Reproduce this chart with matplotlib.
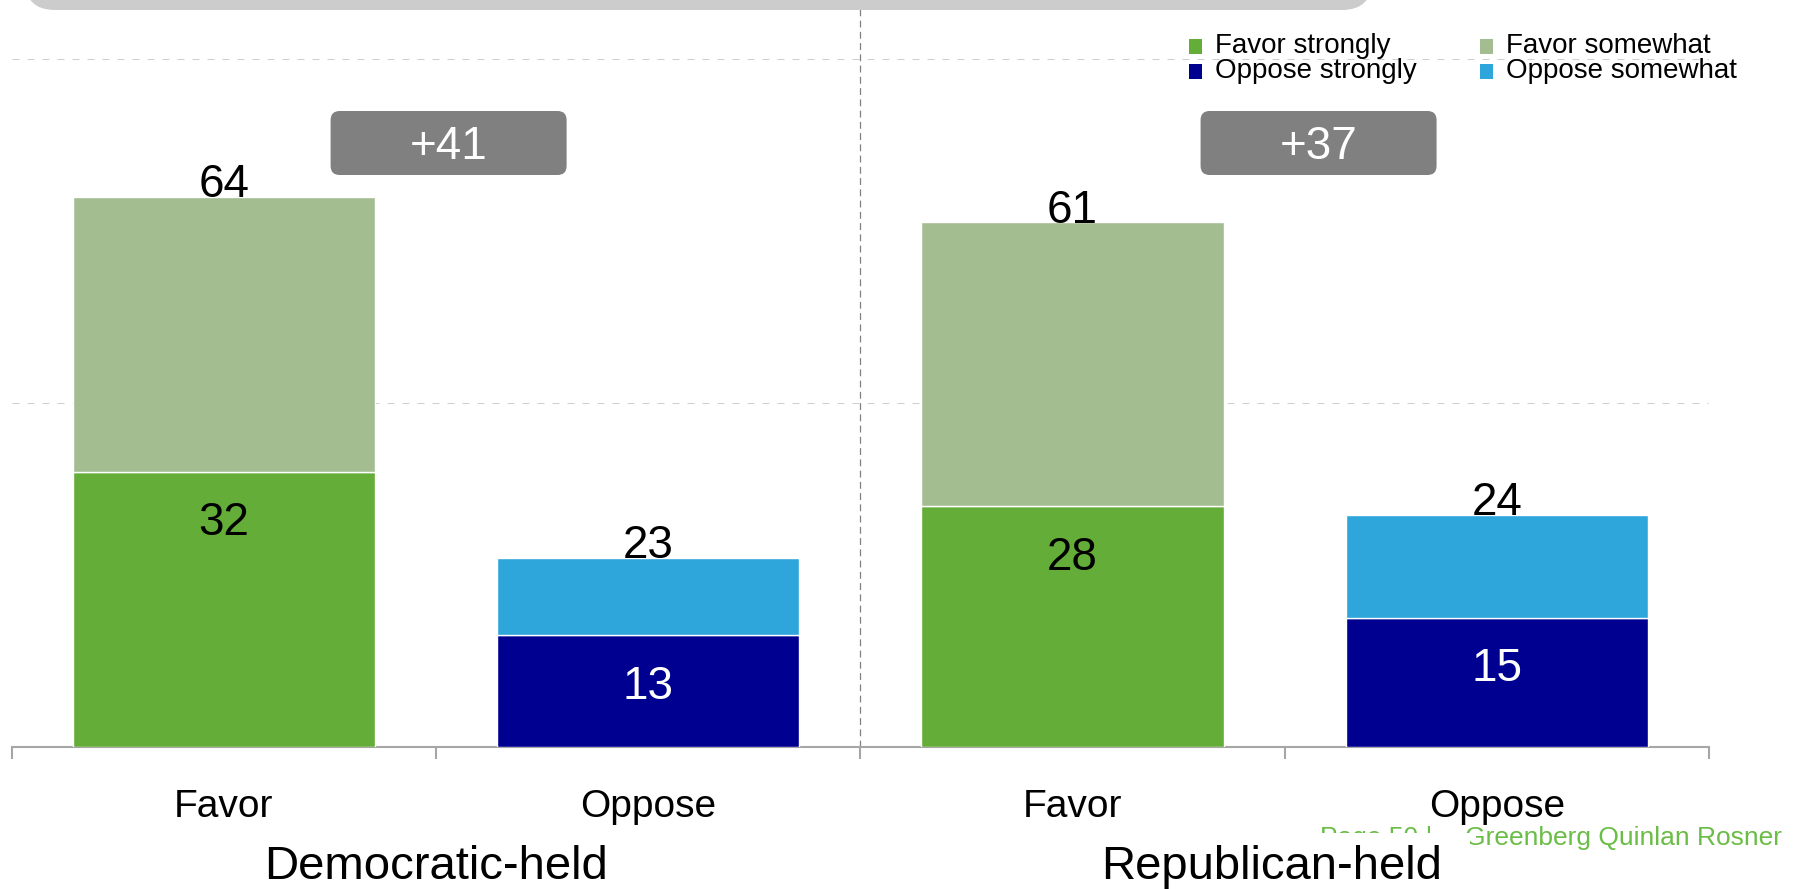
import numpy as np
import matplotlib
matplotlib.use('Agg')
import matplotlib.pyplot as plt
from matplotlib.patches import FancyBboxPatch, Rectangle
from matplotlib.transforms import IdentityTransform, blended_transform_factory

plt.rcParams['font.family'] = ['Liberation Sans', 'DejaVu Sans']

# Données du graphique
categories = ['Favor', 'Oppose', 'Favor', 'Oppose']
groups = ['Democratic-held', 'Republican-held']
strongly = [32, 13, 28, 15]
somewhat = [32, 9, 33, 12]
totals = [64, 23, 61, 24]
legend_labels = ['Favor strongly', 'Favor somewhat', 'Oppose strongly', 'Oppose somewhat']

# Couleurs
c_fav_s = '#63AD38'
c_fav_w = '#A3BD91'
c_opp_s = '#000090'
c_opp_w = '#2EA6DC'
colors_strong = [c_fav_s, c_opp_s, c_fav_s, c_opp_s]
colors_some = [c_fav_w, c_opp_w, c_fav_w, c_opp_w]
legend_colors = [c_fav_s, c_fav_w, c_opp_s, c_opp_w]
inner_text = ['black', 'white', 'black', 'white']

W, H = 1801, 889
fig = plt.figure(figsize=(W/100, H/100), dpi=100)

# Axes : base à y=747 px, échelle 8.6 px par point
ax = fig.add_axes([11.5/W, 1-747/H, (1709-11.5)/W, 747/H])
ax.set_xlim(-0.5, 3.5)
ax.set_ylim(0, 747/8.6)

x = np.arange(len(categories))
ax.bar(x, strongly, width=0.712, color=colors_strong, edgecolor='white', linewidth=1, zorder=3)
ax.bar(x, somewhat, bottom=strongly, width=0.712, color=colors_some, edgecolor='white', linewidth=1, zorder=3)

# Lignes de grille et séparateur
for v in [40, 80]:
    ax.axhline(v, color='#CFCFCF', lw=0.75, ls=(0, (6.7, 7.7)), zorder=1)
ax.axvline(1.5, color='#808080', lw=0.9, ls=(0, (5.5, 3.5)), zorder=2)

for s in ['top', 'left', 'right']:
    ax.spines[s].set_visible(False)
ax.spines['bottom'].set_color('#A6A6A6')
ax.spines['bottom'].set_linewidth(1.5)
ax.set_xticks([-0.5, 0.5, 1.5, 2.5, 3.5])
ax.set_xticklabels([])
ax.set_yticks([])
ax.tick_params(axis='x', length=8.6, width=1.5, color='#A6A6A6', direction='out')
ax.patch.set_visible(False)

# Étiquettes des valeurs
for i in range(len(categories)):
    ax.annotate(str(totals[i]), (x[i], strongly[i] + somewhat[i]), xytext=(0, -0.5),
                textcoords='offset points', ha='center', va='baseline', fontsize=33)
    ax.annotate(str(strongly[i]), (x[i], strongly[i]), xytext=(0, -37),
                textcoords='offset points', ha='center', va='center', fontsize=33,
                color=inner_text[i], zorder=4)

# Étiquettes des catégories
trans = blended_transform_factory(ax.transData, fig.transFigure)
for i, cat in enumerate(categories):
    fig.text(x[i], 1-807/H, cat, transform=trans, ha='center', va='center', fontsize=28, zorder=7)

# Pied de page (partiellement caché)
green = '#6ABD45'
fig.text(1320/W, 1-845/H, 'Page 50 |', color=green, fontsize=19, va='baseline', zorder=5)
fig.text(1465/W, 1-845/H, 'Greenberg Quinlan Rosner', color=green, fontsize=19, va='baseline', zorder=5)
fig.add_artist(Rectangle((1050, 0), 1470-1050, H-833, transform=IdentityTransform(),
                         facecolor='white', edgecolor='none', zorder=6))

group_x = [0.5, 2.47]
for gx, g in zip(group_x, groups):
    fig.text(gx, 1-867/H, g, transform=trans, ha='center', va='center', fontsize=34, zorder=7)

# Boîtes d'écart net
net = [totals[0] - totals[1], totals[2] - totals[3]]
box_x = [0.53, 2.58]
for bx, n in zip(box_x, net):
    cx, _ = ax.transData.transform((bx, 0))
    cy = H - 143
    bw, bh = 236, 64
    fig.add_artist(FancyBboxPatch((cx - bw/2, cy - bh/2), bw, bh,
                                  boxstyle='round,pad=0,rounding_size=9',
                                  transform=IdentityTransform(),
                                  facecolor='#808080', edgecolor='none', zorder=5))
    fig.text(cx/W, (cy - 4)/H, '+%d' % n, color='white', fontsize=33, ha='center',
             va='center', zorder=6)

# Bandeau gris en haut
fig.add_artist(FancyBboxPatch((25, H-10), 1372-25, 80,
                              boxstyle='round,pad=0,rounding_size=30',
                              transform=IdentityTransform(),
                              facecolor='#CCCCCC', edgecolor='none', zorder=8))

# Légende
leg_x = [1189, 1480]
leg_y = [46, 71]
for k, (lab, col) in enumerate(zip(legend_labels, legend_colors)):
    r, c = k // 2, k % 2
    fig.add_artist(Rectangle((leg_x[c], H - leg_y[r] - 8), 13, 15,
                             transform=IdentityTransform(), facecolor=col,
                             edgecolor='none', zorder=5))
    fig.text((leg_x[c] + 26)/W, 1 - leg_y[r]/H, lab, fontsize=20, va='center', zorder=5)

fig.savefig('out.png', dpi=100)
